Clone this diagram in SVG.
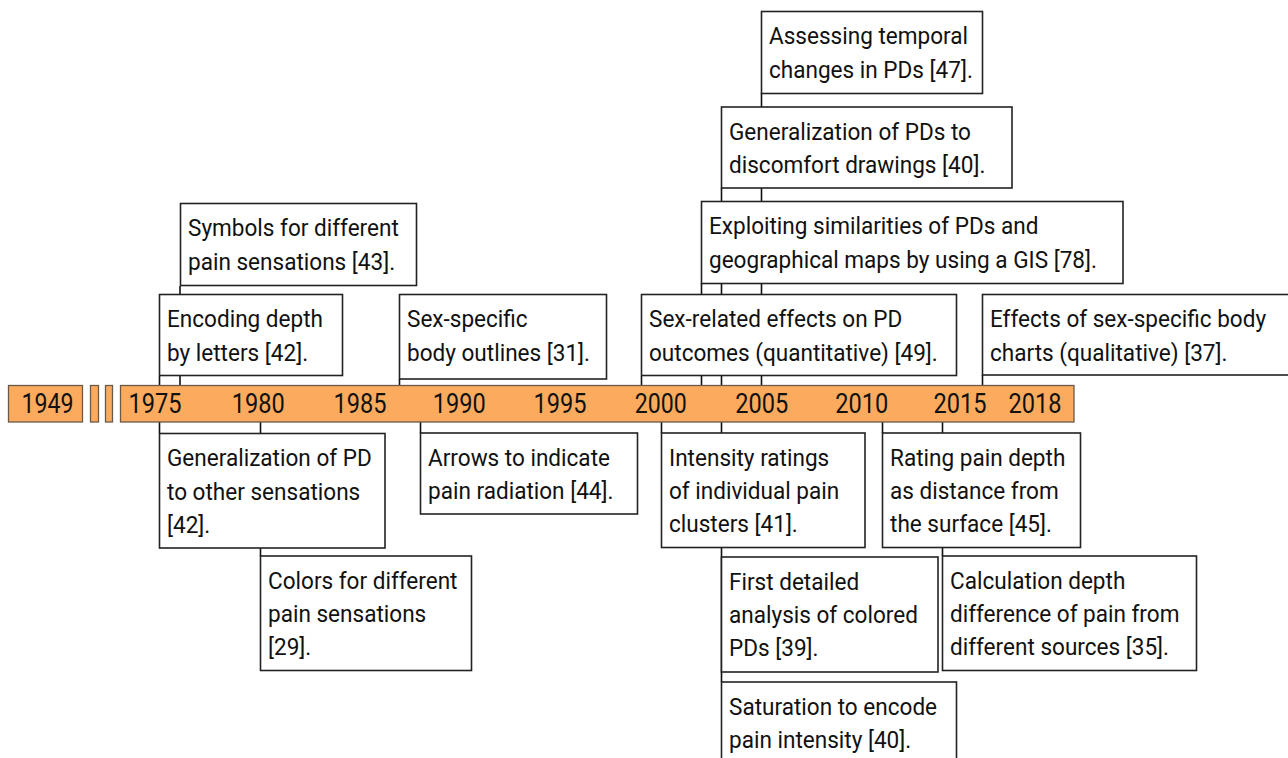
<svg xmlns="http://www.w3.org/2000/svg" width="1288" height="758" viewBox="0 0 1288 758">
<style>
.box{fill:#fff;stroke:#222;stroke-width:1.6}
.bar{fill:#fcab5e;stroke:#6b5a4a;stroke-width:1.3}
.c line{stroke:#111;stroke-width:1.6}
text{font-family:Roboto,"Liberation Sans",sans-serif;font-size:24px;fill:#111}
.yr{font-size:28px;text-anchor:middle}
</style>
<rect width="1288" height="758" fill="#fff"/>
<g id="connectors" class="c">
<line x1="180" y1="286" x2="180" y2="385"/>
<line x1="159.5" y1="376" x2="159.5" y2="385"/>
<line x1="399.5" y1="379" x2="399.5" y2="385"/>
<line x1="641.5" y1="376" x2="641.5" y2="385"/>
<line x1="701.5" y1="283" x2="701.5" y2="385"/>
<line x1="721.5" y1="188" x2="721.5" y2="385"/>
<line x1="761.5" y1="93" x2="761.5" y2="385"/>
<line x1="982.5" y1="375" x2="982.5" y2="385"/>
<line x1="159.5" y1="422" x2="159.5" y2="433"/>
<line x1="260.5" y1="422" x2="260.5" y2="556"/>
<line x1="420.5" y1="422" x2="420.5" y2="433"/>
<line x1="661.5" y1="422" x2="661.5" y2="433"/>
<line x1="721.5" y1="422" x2="721.5" y2="682"/>
<line x1="882.5" y1="422" x2="882.5" y2="433"/>
<line x1="942.5" y1="422" x2="942.5" y2="556"/>
</g>
<g id="timeline">
<rect class="bar" x="8.5" y="385.5" width="74" height="36.5"/>
<rect class="bar" x="90.5" y="385.5" width="8" height="36.5"/>
<rect class="bar" x="105.5" y="385.5" width="7" height="36.5"/>
<rect class="bar" x="120.5" y="385.5" width="953.5" height="36.5"/>
<text class="yr" x="47.5" y="413" textLength="52" lengthAdjust="spacingAndGlyphs">1949</text>
<text class="yr" x="155" y="413" textLength="53" lengthAdjust="spacingAndGlyphs">1975</text>
<text class="yr" x="258.3" y="413" textLength="53" lengthAdjust="spacingAndGlyphs">1980</text>
<text class="yr" x="360" y="413" textLength="53" lengthAdjust="spacingAndGlyphs">1985</text>
<text class="yr" x="459.3" y="413" textLength="53" lengthAdjust="spacingAndGlyphs">1990</text>
<text class="yr" x="560" y="413" textLength="53" lengthAdjust="spacingAndGlyphs">1995</text>
<text class="yr" x="660.8" y="413" textLength="52" lengthAdjust="spacingAndGlyphs">2000</text>
<text class="yr" x="761.7" y="413" textLength="53" lengthAdjust="spacingAndGlyphs">2005</text>
<text class="yr" x="861.7" y="413" textLength="53" lengthAdjust="spacingAndGlyphs">2010</text>
<text class="yr" x="960" y="413" textLength="53" lengthAdjust="spacingAndGlyphs">2015</text>
<text class="yr" x="1035" y="413" textLength="53" lengthAdjust="spacingAndGlyphs">2018</text>
</g>
<g id="n-symbols">
<rect class="box" x="180.5" y="203.5" width="236" height="82"/>
<g transform="matrix(0.94 0 0 1 188 0)"><text y="236.5">Symbols for different</text><text y="270">pain sensations [43].</text></g>
</g>
<g id="n-encoding">
<rect class="box" x="159.5" y="294.5" width="183" height="81"/>
<g transform="matrix(0.94 0 0 1 167 0)"><text y="327.5">Encoding depth</text><text y="361">by letters [42].</text></g>
</g>
<g id="n-sexspecific">
<rect class="box" x="399.5" y="294.5" width="207" height="84.5"/>
<g transform="matrix(0.94 0 0 1 407 0)"><text y="327.5">Sex-specific</text><text y="361">body outlines [31].</text></g>
</g>
<g id="n-assessing">
<rect class="box" x="761.5" y="11.5" width="221" height="82"/>
<g transform="matrix(0.94 0 0 1 769 0)"><text y="44.5">Assessing temporal</text><text y="78">changes in PDs [47].</text></g>
</g>
<g id="n-genpds">
<rect class="box" x="721.5" y="107" width="290.5" height="81"/>
<g transform="matrix(0.94 0 0 1 729 0)"><text y="140">Generalization of PDs to</text><text y="173.5">discomfort drawings [40].</text></g>
</g>
<g id="n-exploiting">
<rect class="box" x="701.5" y="201.5" width="421.5" height="82"/>
<g transform="matrix(0.94 0 0 1 709 0)"><text y="234.5">Exploiting similarities of PDs and</text><text y="268">geographical maps by using a GIS [78].</text></g>
</g>
<g id="n-sexrelated">
<rect class="box" x="641.5" y="294.5" width="315" height="81"/>
<g transform="matrix(0.94 0 0 1 649 0)"><text y="327.5">Sex-related effects on PD</text><text y="361">outcomes (quantitative) [49].</text></g>
</g>
<g id="n-effects">
<rect class="box" x="982.5" y="294.5" width="310" height="80.5"/>
<g transform="matrix(0.94 0 0 1 990 0)"><text y="327.5">Effects of sex-specific body</text><text y="361">charts (qualitative) [37].</text></g>
</g>
<g id="n-genpd">
<rect class="box" x="159.5" y="433.5" width="225.5" height="114.5"/>
<g transform="matrix(0.94 0 0 1 167 0)"><text y="466.5">Generalization of PD</text><text y="500">to other sensations</text><text y="533">[42].</text></g>
</g>
<g id="n-colors">
<rect class="box" x="260.5" y="556" width="211" height="114.5"/>
<g transform="matrix(0.94 0 0 1 268 0)"><text y="589">Colors for different</text><text y="622.5">pain sensations</text><text y="655.5">[29].</text></g>
</g>
<g id="n-arrows">
<rect class="box" x="420.5" y="433" width="217" height="81"/>
<g transform="matrix(0.94 0 0 1 428 0)"><text y="466">Arrows to indicate</text><text y="499.5">pain radiation [44].</text></g>
</g>
<g id="n-intensity">
<rect class="box" x="661.5" y="433" width="203.5" height="114.5"/>
<g transform="matrix(0.94 0 0 1 669 0)"><text y="466">Intensity ratings</text><text y="499.5">of individual pain</text><text y="532.5">clusters [41].</text></g>
</g>
<g id="n-firstdetailed">
<rect class="box" x="721.5" y="557" width="216.5" height="115"/>
<g transform="matrix(0.94 0 0 1 729 0)"><text y="590">First detailed</text><text y="623.5">analysis of colored</text><text y="656.5">PDs [39].</text></g>
</g>
<g id="n-saturation">
<rect class="box" x="721.5" y="682" width="235" height="100"/>
<g transform="matrix(0.94 0 0 1 729 0)"><text y="715">Saturation to encode</text><text y="748.5">pain intensity [40].</text></g>
</g>
<g id="n-rating">
<rect class="box" x="882.5" y="433" width="198" height="114.5"/>
<g transform="matrix(0.94 0 0 1 890 0)"><text y="466">Rating pain depth</text><text y="499.5">as distance from</text><text y="532.5">the surface [45].</text></g>
</g>
<g id="n-calculation">
<rect class="box" x="942.5" y="556" width="254" height="114.5"/>
<g transform="matrix(0.94 0 0 1 950 0)"><text y="589">Calculation depth</text><text y="622.5">difference of pain from</text><text y="655.5">different sources [35].</text></g>
</g>
</svg>
